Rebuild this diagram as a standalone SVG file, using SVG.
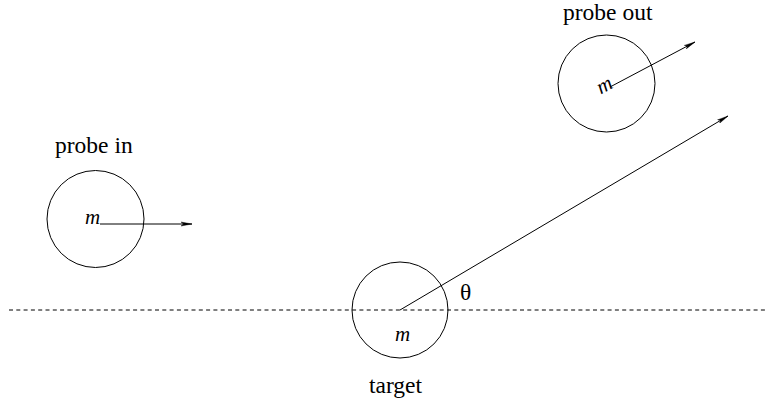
<svg xmlns="http://www.w3.org/2000/svg" width="765" height="404" viewBox="0 0 765 404">
<style>
.c{fill:none;stroke:#000;stroke-width:1}
.l{stroke:#000;stroke-width:1;fill:none}
.t{font-family:"Liberation Serif",serif;font-size:23.5px;fill:#000}
.m{font-family:"Liberation Serif",serif;font-style:italic;font-size:21px;fill:#000}
</style>
<defs>
<marker id="a" markerWidth="12" markerHeight="6" refX="11" refY="3" orient="auto" markerUnits="userSpaceOnUse">
<path d="M0,1 L11,3 L0,5 L2.5,3 Z" fill="#000" stroke="#000" stroke-width="0.4"/>
</marker>
</defs>
<g id="connectors">
<line class="l" x1="9" y1="310" x2="765" y2="310" stroke-dasharray="4,3.3"/>
<line class="l" x1="100" y1="224" x2="192" y2="224" marker-end="url(#a)"/>
<line class="l" x1="400" y1="310" x2="728" y2="116" marker-end="url(#a)"/>
<line class="l" x1="610" y1="87" x2="695" y2="42" marker-end="url(#a)"/>
</g>
<g id="probe-in">
<circle class="c" cx="95.5" cy="219" r="48.5"/>
<text class="t" x="55" y="153">probe in</text>
<text class="m" x="85" y="224">m</text>
</g>
<g id="target">
<circle class="c" cx="400" cy="310" r="48"/>
<text class="m" x="395" y="341">m</text>
<text class="t" x="369" y="393">target</text>
<text class="t" x="460" y="300">θ</text>
</g>
<g id="probe-out">
<circle class="c" cx="606.5" cy="83.5" r="48.5"/>
<text class="t" x="563" y="20">probe out</text>
<text class="m" x="597" y="92" transform="rotate(-28 604 86)">m</text>
</g>
</svg>
